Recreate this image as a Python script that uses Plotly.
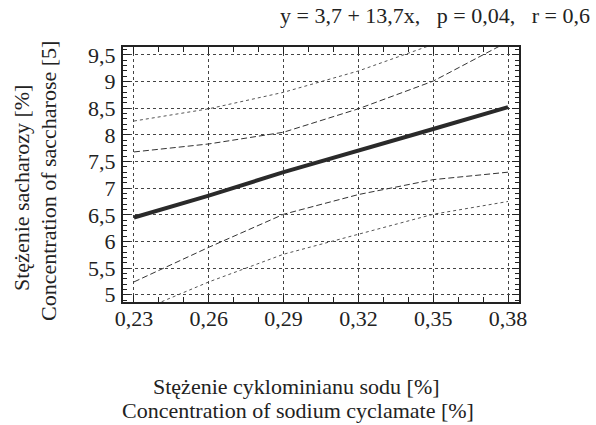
import plotly.graph_objects as go

# data
x_vals = [0.23, 0.26, 0.29, 0.32, 0.35, 0.38]
fit = [6.45, 6.86, 7.30, 7.70, 8.11, 8.52]
conf_upper = [7.68, 7.83, 8.05, 8.49, 9.01, 9.75]
conf_lower = [5.24, 5.89, 6.51, 6.88, 7.16, 7.30]
pred_upper = [8.26, 8.49, 8.80, 9.20, 9.70, 10.2]
pred_lower = [4.65, 5.24, 5.76, 6.14, 6.51, 6.75]

x_ticks = [0.23, 0.26, 0.29, 0.32, 0.35, 0.38]
x_ticktext = ["0,23", "0,26", "0,29", "0,32", "0,35", "0,38"]
y_ticks = [5, 5.5, 6, 6.5, 7, 7.5, 8, 8.5, 9, 9.5]
y_ticktext = ["5", "5,5", "6", "6,5", "7", "7,5", "8", "8,5", "9", "9,5"]

title_text = "y = 3,7 + 13,7x,\u00a0\u00a0\u00a0p = 0,04,\u00a0\u00a0\u00a0r = 0,6"
y_title = ["Stężenie sacharozy [%]", "Concentration of saccharose [5]"]
x_title = ["Stężenie cyklominianu sodu [%]", "Concentration of sodium cyclamate [%]"]

FONT = "Liberation Serif"
FS = 22

fig = go.Figure()
fig.add_trace(go.Scatter(x=x_vals, y=pred_upper, mode="lines",
                         line=dict(color="#555", width=1, dash="dot")))
fig.add_trace(go.Scatter(x=x_vals, y=pred_lower, mode="lines",
                         line=dict(color="#555", width=1, dash="dot")))
fig.add_trace(go.Scatter(x=x_vals, y=conf_upper, mode="lines",
                         line=dict(color="#333", width=1, dash="6px,3px")))
fig.add_trace(go.Scatter(x=x_vals, y=conf_lower, mode="lines",
                         line=dict(color="#333", width=1, dash="6px,3px")))
fig.add_trace(go.Scatter(x=x_vals, y=fit, mode="lines",
                         line=dict(color="#2a2a2a", width=4)))

axis_common = dict(
    showline=True, linecolor="#222", linewidth=2, mirror="allticks",
    ticks="inside", ticklen=7, tickwidth=1, tickcolor="#222",
    showgrid=True, gridcolor="#444", gridwidth=1, griddash="dot",
    zeroline=False, automargin=False,
    tickfont=dict(family=FONT, size=FS, color="#222"),
)

fig.update_xaxes(range=[0.2256, 0.3844], tickvals=x_ticks, ticktext=x_ticktext,
                 minor=dict(dtick=0.01, tick0=0.23, ticks="inside", ticklen=5,
                            tickcolor="#222", showgrid=False),
                 ticklabelstandoff=-4, **axis_common)
fig.update_yaxes(range=[4.863, 9.65], tickvals=y_ticks, ticktext=y_ticktext,
                 minor=dict(dtick=0.1, tick0=5, ticks="inside", ticklen=4,
                            tickcolor="#222", showgrid=False),
                 ticklabelstandoff=1, **axis_common)

ann_font = dict(family=FONT, size=FS, color="#222")
L, R, T, B, W, H = 123, 77, 47, 123, 596, 425
pw, ph = W - L - R, H - T - B


def px2paper(px, py):
    return (px - L) / pw, (H - B - py) / ph


# text, x px, y px, angle, xanchor, yanchor
ann_specs = [
    (title_text, 592, 16, 0, "right", "middle"),
    (y_title[0], 21, 188, -90, "center", "middle"),
    (y_title[1], 48, 181, -90, "center", "middle"),
    (x_title[0], 296, 386, 0, "center", "middle"),
    (x_title[1], 298, 410, 0, "center", "middle"),
]
anns = []
for text, px, py, ang, xa, ya in ann_specs:
    ax, ay = px2paper(px, py)
    anns.append(dict(text=text, x=ax, y=ay, xref="paper", yref="paper",
                     xanchor=xa, yanchor=ya, textangle=ang,
                     showarrow=False, font=ann_font))

fig.update_layout(
    width=W, height=H,
    margin=dict(l=L, r=R, t=T, b=B),
    plot_bgcolor="white", paper_bgcolor="white",
    showlegend=False,
    font=dict(family=FONT, color="#222"),
    annotations=anns,
)

fig.write_html("out.html", config={"displayModeBar": False},
               post_script="document.body.style.margin='0';")
